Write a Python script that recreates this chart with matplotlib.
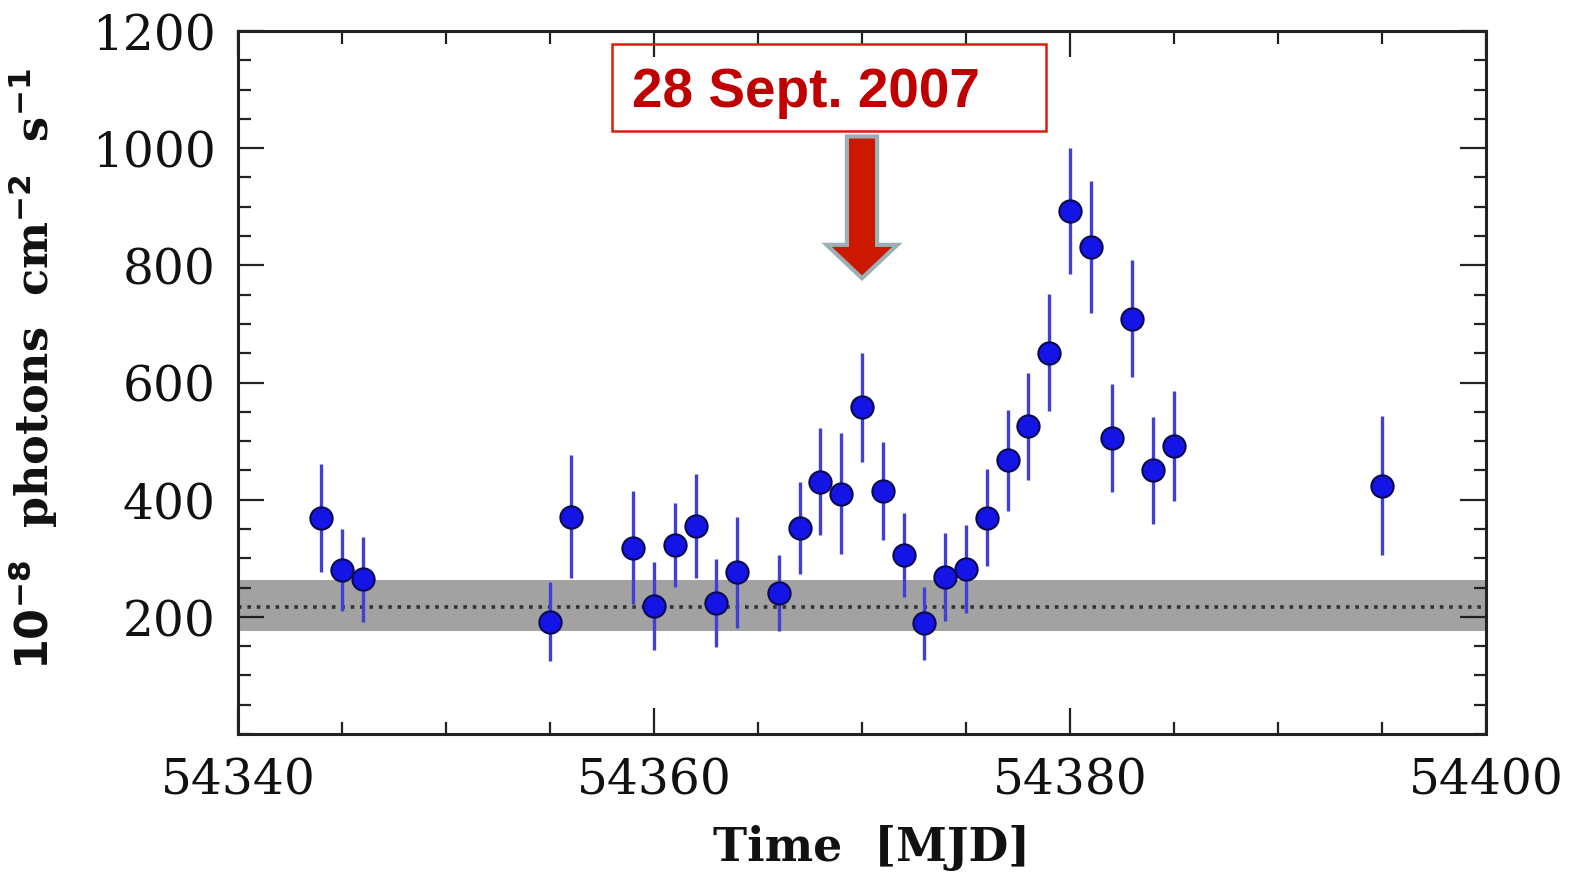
import matplotlib
matplotlib.use("Agg")
import matplotlib.pyplot as plt
from matplotlib.patches import FancyArrow, Rectangle
from matplotlib.ticker import MultipleLocator

# ---- data ----
mjd = [54344, 54345, 54346, 54355, 54356, 54359, 54360, 54361, 54362, 54363,
       54364, 54366, 54367, 54368, 54369, 54370, 54371, 54372, 54373, 54374,
       54375, 54376, 54377, 54378, 54379, 54380, 54381, 54382, 54383, 54384,
       54385, 54395]
flux = [369, 280, 264, 192, 371, 318, 218, 323, 355, 223,
        276, 240, 352, 431, 410, 558, 415, 306, 189, 268,
        282, 369, 467, 525, 651, 893, 831, 505, 709, 450,
        491, 424]
flux_err = [92, 70, 72, 67, 105, 96, 75, 72, 88, 75,
            95, 65, 79, 92, 103, 93, 83, 72, 62, 75,
            75, 83, 86, 92, 100, 108, 113, 92, 100, 91,
            94, 118]
band_low, band_high, band_mean = 175, 263, 217
event_mjd = 54370
event_label = "28 Sept. 2007"
xlim = (54340, 54400)
ylim = (0, 1200)
xticks = [54340, 54360, 54380, 54400]
yticks = [200, 400, 600, 800, 1000, 1200]

fig = plt.figure(figsize=(15.76, 8.79), dpi=100)
ax = fig.add_axes([238/1576, 1-735/879, (1486-238)/1576, (735-32)/879])

ax.axhspan(band_low, band_high, color='#a2a2a2', lw=0, zorder=1)
ax.axhline(band_mean, color='#333333', lw=2.6, ls=(0, (1, 1.6)), zorder=2)

ax.errorbar(mjd, flux, yerr=flux_err, fmt='none', ecolor='#4040d8', elinewidth=2.4,
            capsize=0, zorder=3)
ax.plot(mjd, flux, 'o', ms=16, mfc='#1414e6', mec='#0a0a50', mew=1.5, zorder=4)

ax.set_xlim(*xlim)
ax.set_ylim(*ylim)
ax.set_xticks(xticks)
ax.set_yticks(yticks)
ax.xaxis.set_minor_locator(MultipleLocator(5))
ax.yaxis.set_minor_locator(MultipleLocator(50))
ax.tick_params(which='both', direction='in', top=True, right=True, color='#222222')
ax.tick_params(which='major', length=19, width=1.6)
ax.tick_params(which='minor', length=9, width=1.6)
ax.tick_params(axis='x', which='major', pad=16)
ax.tick_params(axis='y', which='major', pad=16)
for lab in ax.get_xticklabels() + ax.get_yticklabels():
    lab.set_family('DejaVu Serif')
    lab.set_fontsize(35)
    lab.set_color('#111111')
for s in ax.spines.values():
    s.set_linewidth(2.2)
    s.set_color('#222222')

ax.set_xlabel('Time  [MJD]', family='DejaVu Serif', fontweight='bold', fontsize=33,
              color='#111111')
ax.xaxis.set_label_coords(0.508, -0.128)
ax.set_ylabel(r'$\mathbf{10^{-8}}$  photons  cm$\mathbf{^{-2}}$  s$\mathbf{^{-1}}$',
              family='DejaVu Serif', fontweight='bold', fontsize=32, color='#111111')
ax.yaxis.set_label_coords(-0.143, 0.52)

# annotation arrow
arr = FancyArrow(event_mjd, 1020, 0, -242, width=1.45, head_width=3.4, head_length=57,
                 length_includes_head=True, facecolor='#cc1800', edgecolor='#9ab0b4',
                 lw=3, zorder=5)
ax.add_patch(arr)

# annotation box
box = Rectangle((612/1576, 1-132/879), (1046-612)/1576, (132-45)/879,
                transform=fig.transFigure, facecolor='none', edgecolor='#d81e10',
                lw=1.8, zorder=6)
fig.patches.append(box)
fig.text(632/1576, 1-93/879, event_label, family='Liberation Sans',
         fontweight='bold', fontsize=39.5, color='#c00000', va='center', ha='left')

fig.savefig('out.png', dpi=100)
